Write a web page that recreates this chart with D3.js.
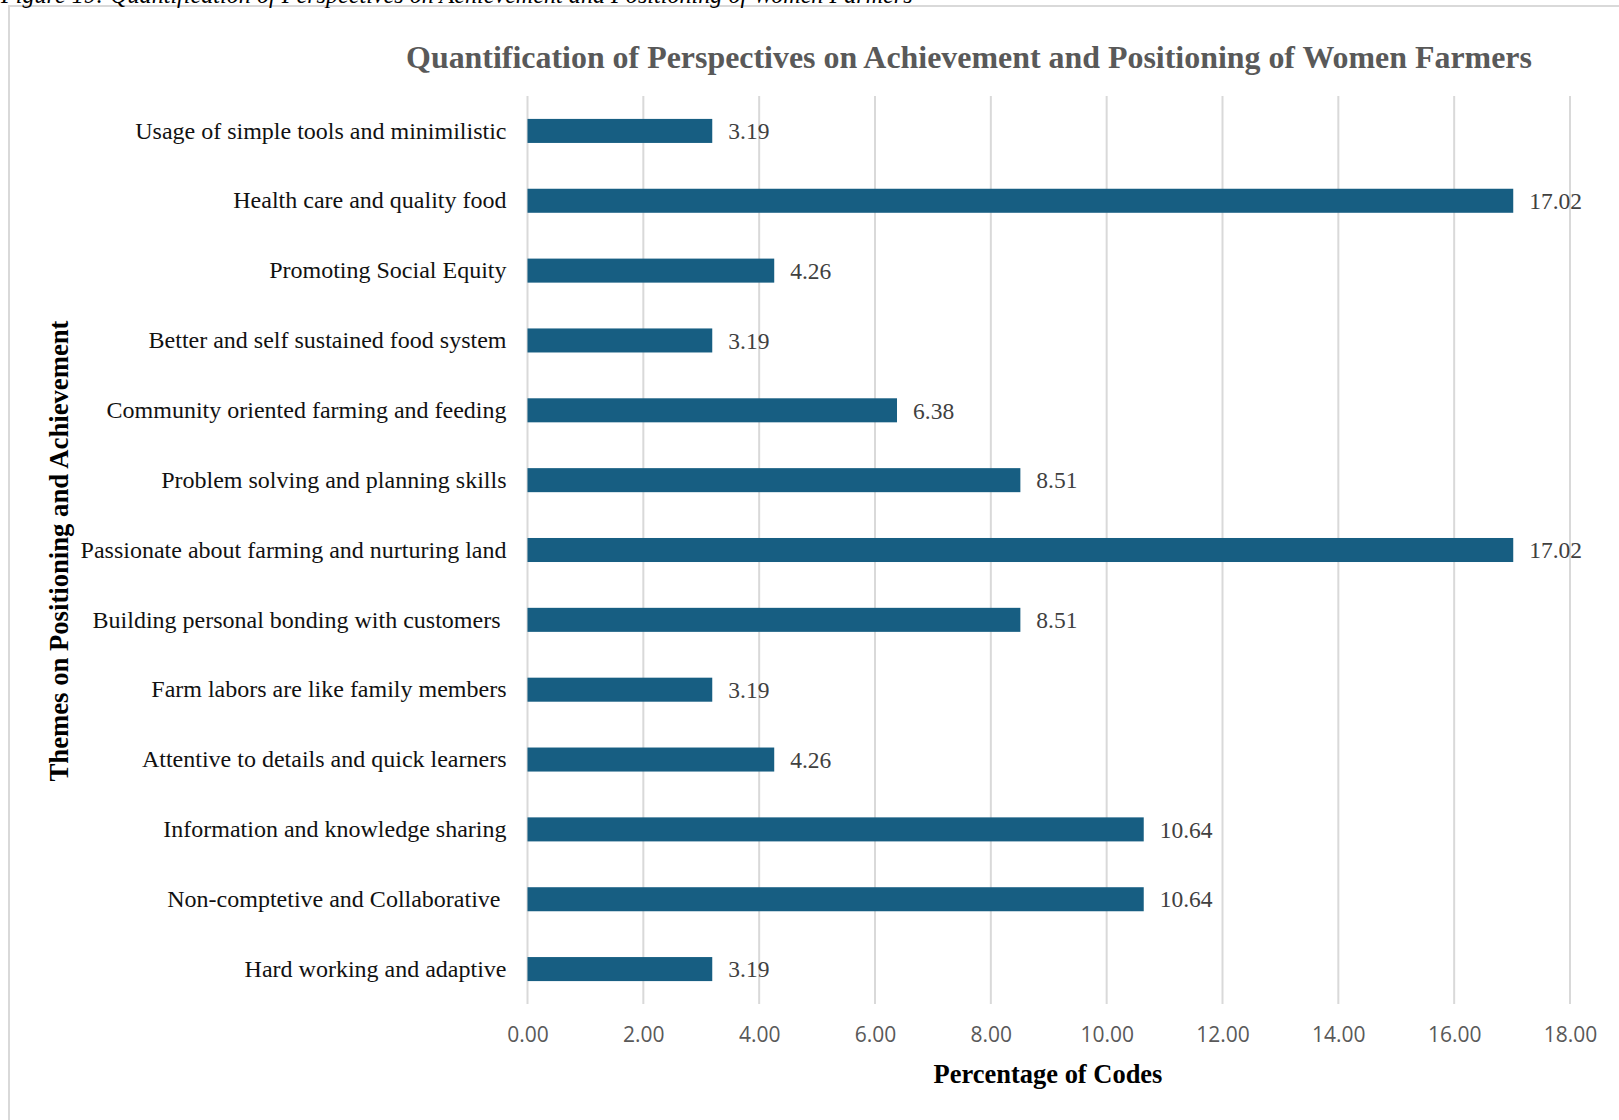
<!DOCTYPE html>
<html>
<head>
<meta charset="utf-8">
<script src="https://cdn.jsdelivr.net/npm/d3@7"></script>
<style>
  html, body { margin: 0; padding: 0; background: #fff; overflow: hidden; }
  svg { display: block; }
</style>
</head>
<body>
<svg id="chart" width="1619" height="1120"></svg>
<script>
// Themes, listed top to bottom as they appear on the chart
const categories = [
  "Usage of simple tools and minimilistic",
  "Health care and quality food",
  "Promoting Social Equity",
  "Better and self sustained food system",
  "Community oriented farming and feeding",
  "Problem solving and planning skills",
  "Passionate about farming and nurturing land",
  "Building personal bonding with customers ",
  "Farm labors are like family members",
  "Attentive to details and quick learners",
  "Information and knowledge sharing",
  "Non-comptetive and Collaborative ",
  "Hard working and adaptive"
];

// Percentage of codes for each theme
const percentages = [3.19, 17.02, 4.26, 3.19, 6.38, 8.51, 17.02, 8.51, 3.19, 4.26, 10.64, 10.64, 3.19];

// Horizontal axis ticks
const xTicks = [0, 2, 4, 6, 8, 10, 12, 14, 16, 18];

const caption = "Figure 19: Quantification of Perspectives on Achievement and Positioning of Women Farmers";
const title = "Quantification of Perspectives on Achievement and Positioning of Women Farmers";
const xTitle = "Percentage of Codes";
const yTitle = "Themes on Positioning and Achievement";

const data = categories.map((c, i) => ({ category: c, value: percentages[i] }));

const svg = d3.select("#chart");
const serif = "'Liberation Serif', 'Times New Roman', serif";
const sans = "'Open Sans', 'Liberation Sans', sans-serif";

const plot = { left: 527.5, right: 1570, top: 96, bottom: 1004 };

const x = d3.scaleLinear().domain([0, 18]).range([plot.left, plot.right]);
const y = d3.scaleBand()
  .domain(categories)
  .range([plot.top, plot.bottom])
  .paddingInner(0.656)
  .paddingOuter(0.328);

// Fit a text element to a given width by adjusting its font size
function fitWidth(sel, width) {
  const size = +sel.attr("font-size");
  const len = sel.node().getComputedTextLength();
  sel.attr("font-size", size * width / len);
  return sel;
}

// Chart frame
svg.append("rect")
  .attr("x", 9).attr("y", 6)
  .attr("width", 1700).attr("height", 1300)
  .attr("fill", "#fff")
  .attr("stroke", "#d9d9d9")
  .attr("stroke-width", 2);

// Figure caption sitting above the frame
const cap = svg.append("text")
  .attr("x", 1).attr("y", 2.5)
  .attr("font-family", serif)
  .attr("font-style", "italic")
  .attr("font-size", 23)
  .attr("fill", "#000")
  .text(caption);
fitWidth(cap, 912);

// Title
const titleText = svg.append("text")
  .attr("x", 969).attr("y", 68)
  .attr("text-anchor", "middle")
  .attr("font-family", serif)
  .attr("font-weight", "bold")
  .attr("font-size", 32)
  .attr("fill", "#595959")
  .text(title);
fitWidth(titleText, 1126);

// Vertical gridlines
svg.append("g")
  .selectAll("line")
  .data(xTicks)
  .join("line")
  .attr("x1", d => x(d)).attr("x2", d => x(d))
  .attr("y1", plot.top).attr("y2", plot.bottom)
  .attr("stroke", "#d9d9d9")
  .attr("stroke-width", 2);

// Bars
svg.append("g")
  .selectAll("rect")
  .data(data)
  .join("rect")
  .attr("x", x(0))
  .attr("y", d => y(d.category))
  .attr("width", d => x(d.value) - x(0))
  .attr("height", y.bandwidth())
  .attr("fill", "#175e82");

// Value labels
svg.append("g")
  .selectAll("text")
  .data(data)
  .join("text")
  .attr("x", d => x(d.value) + 16)
  .attr("y", d => y(d.category) + y.bandwidth() / 2)
  .attr("dy", "0.35em")
  .attr("font-family", serif)
  .attr("font-size", 23.5)
  .attr("fill", "#404040")
  .text(d => d.value.toFixed(2));

// Category axis (labels only)
const yAxis = svg.append("g")
  .attr("transform", `translate(${x(0) - 21},0)`)
  .call(d3.axisLeft(y).tickSize(0).tickPadding(0));
yAxis.select(".domain").remove();
yAxis.selectAll("text")
  .attr("font-family", serif)
  .attr("font-size", 24)
  .attr("fill", "#111")
  .style("white-space", "pre");

// Value axis (labels only)
const xAxis = svg.append("g")
  .attr("transform", `translate(0,${plot.bottom})`)
  .call(d3.axisBottom(x).tickValues(xTicks).tickSize(0).tickFormat(d3.format(".2f")));
xAxis.select(".domain").remove();
xAxis.selectAll("text")
  .attr("y", 31)
  .attr("dy", "0.35em")
  .attr("font-family", sans)
  .attr("font-size", 21)
  .attr("fill", "#595959");

// Axis titles
const xt = svg.append("text")
  .attr("x", 1048).attr("y", 1083)
  .attr("text-anchor", "middle")
  .attr("font-family", serif)
  .attr("font-weight", "bold")
  .attr("font-size", 26)
  .attr("fill", "#000")
  .text(xTitle);
fitWidth(xt, 229);

const yt = svg.append("text")
  .attr("transform", "translate(68,551) rotate(-90)")
  .attr("text-anchor", "middle")
  .attr("font-family", serif)
  .attr("font-weight", "bold")
  .attr("font-size", 26)
  .attr("fill", "#000")
  .text(yTitle);
fitWidth(yt, 461);
</script>
</body>
</html>
